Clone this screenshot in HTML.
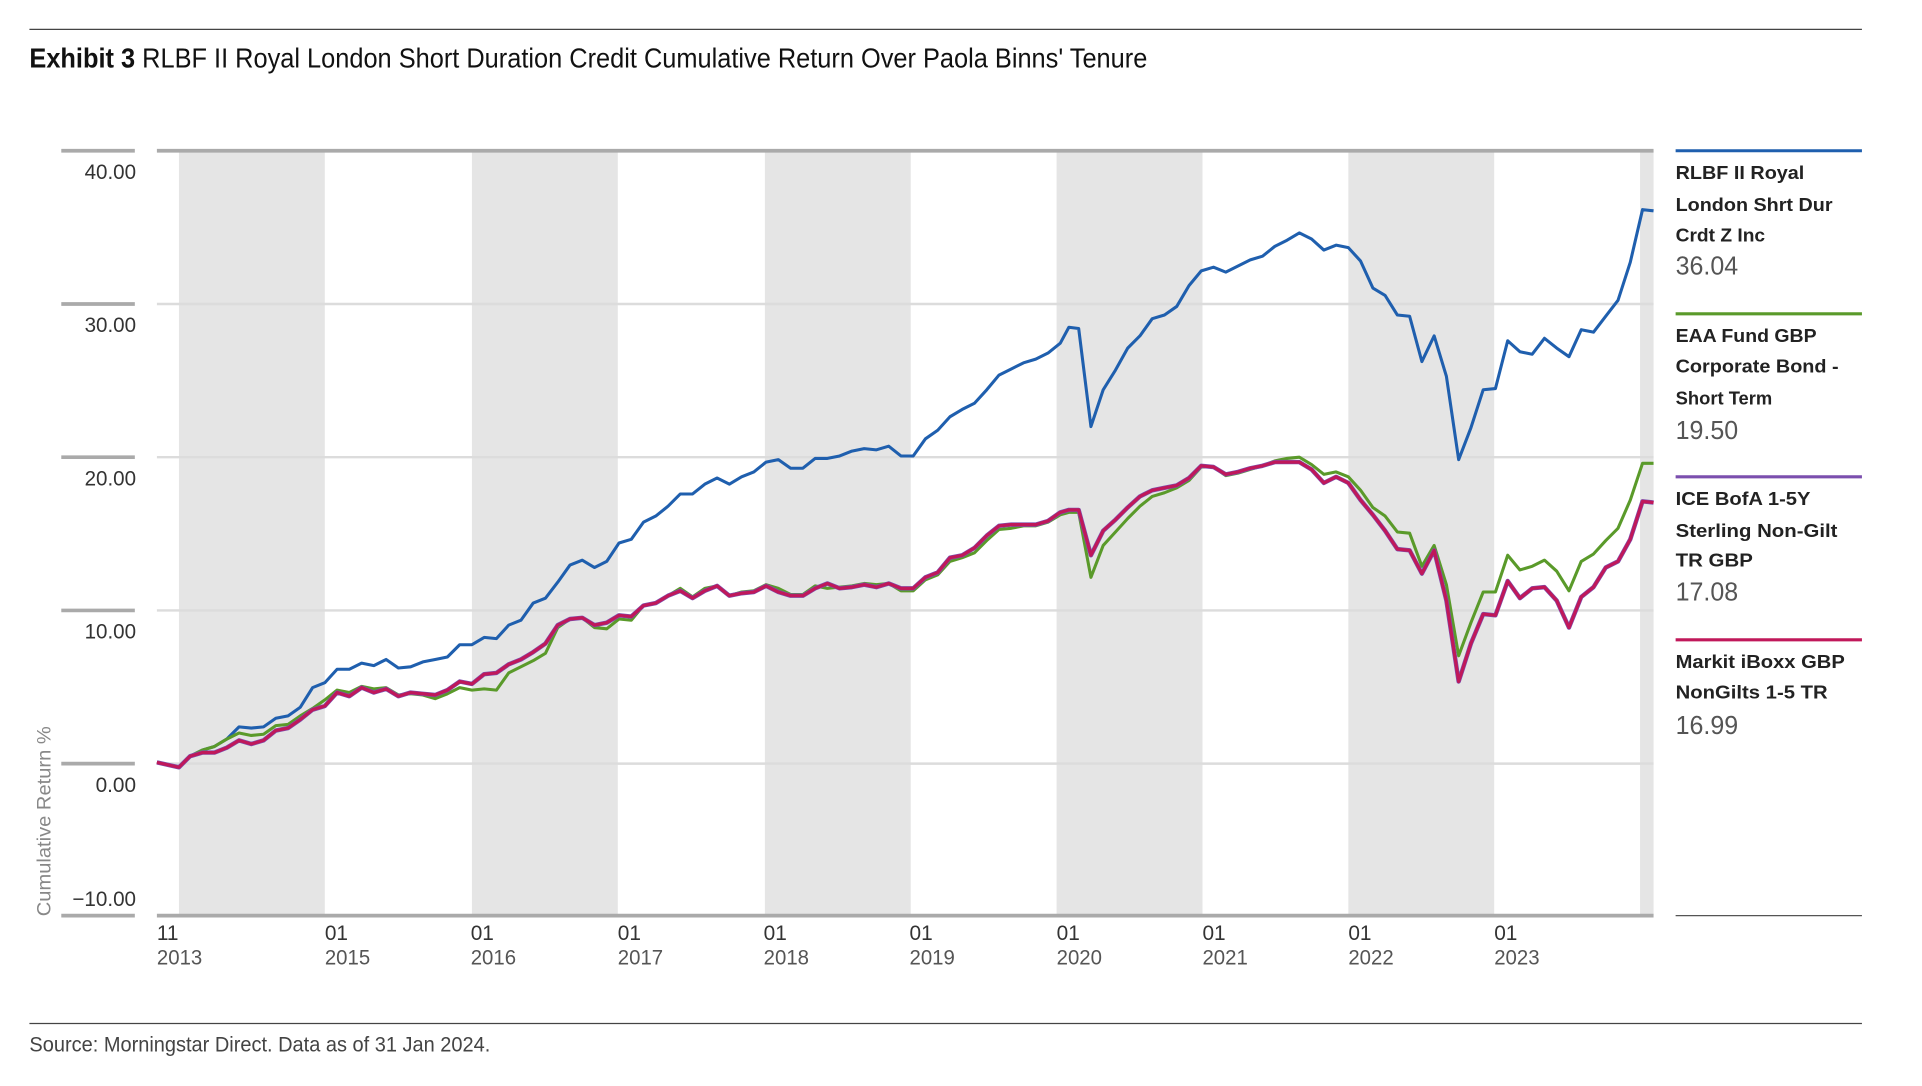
<!DOCTYPE html>
<html><head><meta charset="utf-8"><style>
html,body{margin:0;padding:0;background:#fff;}
svg{display:block;}
text{font-family:"Liberation Sans Narrow","Liberation Sans",sans-serif;}
.leg{font-family:"Liberation Sans",sans-serif;font-weight:bold;font-size:15px;fill:#222;}
.val{font-size:21px;fill:#555;}
.yl{font-size:17px;fill:#333;text-anchor:end;}
.xl{font-size:17px;fill:#555;}
</style></head><body>
<svg width="1922" height="1086" viewBox="0 0 1568 886" preserveAspectRatio="none" xmlns="http://www.w3.org/2000/svg">
<line x1="24" y1="24" x2="1519" y2="24" stroke="#444" stroke-width="1"/>
<text x="24" y="55" font-size="23" fill="#111" textLength="912" lengthAdjust="spacingAndGlyphs"><tspan font-weight="bold">Exhibit 3</tspan> RLBF II Royal London Short Duration Credit Cumulative Return Over Paola Binns' Tenure</text>
<g fill="#e5e5e5">
<rect x="146" y="123" width="119" height="624"/>
<rect x="385" y="123" width="119" height="624"/>
<rect x="624" y="123" width="119" height="624"/>
<rect x="862" y="123" width="119" height="624"/>
<rect x="1100" y="123" width="119" height="624"/>
<rect x="1338" y="123" width="11" height="624"/>
</g>
<g stroke="#dcdcdc" stroke-width="2">
<line x1="128" y1="248" x2="1349" y2="248"/>
<line x1="128" y1="373" x2="1349" y2="373"/>
<line x1="128" y1="498" x2="1349" y2="498"/>
<line x1="128" y1="623" x2="1349" y2="623"/>
</g>
<g stroke="#aaa" stroke-width="3">
<line x1="128" y1="123" x2="1349" y2="123"/>
<line x1="128" y1="747" x2="1349" y2="747"/>
<line x1="50" y1="123" x2="110" y2="123"/>
<line x1="50" y1="248" x2="110" y2="248"/>
<line x1="50" y1="373" x2="110" y2="373"/>
<line x1="50" y1="498" x2="110" y2="498"/>
<line x1="50" y1="623" x2="110" y2="623"/>
<line x1="50" y1="747" x2="110" y2="747"/>
</g>
<text class="yl" x="111" y="146" textLength="42" lengthAdjust="spacingAndGlyphs">40.00</text>
<text class="yl" x="111" y="271" textLength="42" lengthAdjust="spacingAndGlyphs">30.00</text>
<text class="yl" x="111" y="396" textLength="42" lengthAdjust="spacingAndGlyphs">20.00</text>
<text class="yl" x="111" y="521" textLength="42" lengthAdjust="spacingAndGlyphs">10.00</text>
<text class="yl" x="111" y="646" textLength="33" lengthAdjust="spacingAndGlyphs">0.00</text>
<text class="yl" x="111" y="739" textLength="52" lengthAdjust="spacingAndGlyphs">−10.00</text>
<text x="41" y="670" font-size="16" fill="#888" text-anchor="middle" transform="rotate(-90 41 670)" textLength="155" lengthAdjust="spacingAndGlyphs">Cumulative Return %</text>
<g class="xl">
<text x="128" y="767" fill="#333">11</text><text x="128" y="787" textLength="37" lengthAdjust="spacingAndGlyphs">2013</text>
<text x="265" y="767" fill="#333">01</text><text x="265" y="787" textLength="37" lengthAdjust="spacingAndGlyphs">2015</text>
<text x="384" y="767" fill="#333">01</text><text x="384" y="787" textLength="37" lengthAdjust="spacingAndGlyphs">2016</text>
<text x="504" y="767" fill="#333">01</text><text x="504" y="787" textLength="37" lengthAdjust="spacingAndGlyphs">2017</text>
<text x="623" y="767" fill="#333">01</text><text x="623" y="787" textLength="37" lengthAdjust="spacingAndGlyphs">2018</text>
<text x="742" y="767" fill="#333">01</text><text x="742" y="787" textLength="37" lengthAdjust="spacingAndGlyphs">2019</text>
<text x="862" y="767" fill="#333">01</text><text x="862" y="787" textLength="37" lengthAdjust="spacingAndGlyphs">2020</text>
<text x="981" y="767" fill="#333">01</text><text x="981" y="787" textLength="37" lengthAdjust="spacingAndGlyphs">2021</text>
<text x="1100" y="767" fill="#333">01</text><text x="1100" y="787" textLength="37" lengthAdjust="spacingAndGlyphs">2022</text>
<text x="1219" y="767" fill="#333">01</text><text x="1219" y="787" textLength="37" lengthAdjust="spacingAndGlyphs">2023</text>
</g>
<g fill="none" stroke-linejoin="round">
<polyline stroke="#1f5fae" stroke-width="2.5" points="128,622 146,626 155,617 165,612 175,609 185,603 195,593 205,594 215,593 225,586 235,584 245,577 255,561 265,557 275,546 285,546 295,541 305,543 315,538 325,545 335,544 345,540 355,538 365,536 375,526 385,526 395,520 405,521 415,510 425,506 435,492 445,488 455,475 465,461 475,457 485,463 495,458 505,443 515,440 525,426 535,421 545,413 555,403 565,403 575,395 585,390 595,395 605,389 615,385 625,377 635,375 645,382 655,382 665,374 675,374 685,372 695,368 705,366 715,367 725,364 735,372 745,372 755,358 765,351 775,340 785,334 795,329 805,318 815,306 825,301 835,296 845,293 855,288 865,280 872,267 880,268 890,348 900,318 910,302 920,284 930,274 940,260 950,257 960,250 970,233 980,221 990,218 1000,222 1010,217 1020,212 1030,209 1040,201 1050,196 1060,190 1070,195 1080,204 1090,200 1100,202 1110,213 1120,235 1130,241 1140,257 1150,258 1160,295 1170,274 1180,307 1190,375 1200,349 1210,318 1220,317 1230,278 1240,287 1250,289 1260,276 1270,284 1280,291 1290,269 1300,271 1310,258 1320,245 1330,214 1340,171 1349,172"/>
<polyline stroke="#5a9a2a" stroke-width="2.5" points="128,622 146,626 155,617 165,612 175,609 185,603 195,598 205,600 215,599 225,592 235,591 245,584 255,578 265,571 275,563 285,565 295,560 305,562 315,561 325,567 335,566 345,567 355,570 365,566 375,561 385,563 395,562 405,563 415,549 425,544 435,539 445,533 455,512 465,505 475,504 485,512 495,513 505,505 515,506 525,494 535,492 545,486 555,480 565,487 575,480 585,478 595,486 605,483 615,482 625,477 635,480 645,485 655,485 665,478 675,480 685,479 695,478 705,476 715,477 725,476 735,482 745,482 755,473 765,469 775,458 785,455 795,451 805,441 815,432 825,431 835,429 845,429 855,426 865,420 872,418 880,418 890,471 900,445 910,434 920,423 930,413 940,405 950,402 960,398 970,392 980,381 990,381 1000,388 1010,386 1020,383 1030,380 1040,376 1050,374 1060,373 1070,379 1080,387 1090,385 1100,389 1110,400 1120,414 1130,421 1140,434 1150,435 1160,462 1170,445 1180,477 1190,535 1200,508 1210,483 1220,483 1230,453 1240,465 1250,462 1260,457 1270,466 1280,482 1290,458 1300,452 1310,441 1320,431 1330,408 1340,378 1349,378"/>
<polyline stroke="#7b4fae" stroke-width="3.6" points="128,622 146,626 155,617 165,614 175,614 185,610 195,604 205,607 215,604 225,596 235,594 245,587 255,579 265,576 275,565 285,568 295,561 305,565 315,562 325,568 335,565 345,566 355,567 365,563 375,556 385,558 395,550 405,549 415,542 425,538 435,532 445,525 455,510 465,505 475,504 485,510 495,508 505,502 515,503 525,494 535,492 545,486 555,482 565,488 575,482 585,478 595,486 605,484 615,483 625,478 635,483 645,486 655,486 665,480 675,476 685,480 695,479 705,477 715,479 725,476 735,480 745,480 755,471 765,467 775,455 785,453 795,447 805,437 815,429 825,428 835,428 845,428 855,425 865,418 872,416 880,416 890,453 900,433 910,424 920,414 930,405 940,400 950,398 960,396 970,390 980,380 990,381 1000,387 1010,385 1020,382 1030,380 1040,377 1050,377 1060,377 1070,383 1080,394 1090,389 1100,394 1110,408 1120,420 1130,433 1140,448 1150,449 1160,468 1170,449 1180,490 1190,556 1200,525 1210,501 1220,502 1230,474 1240,488 1250,480 1260,479 1270,490 1280,512 1290,487 1300,479 1310,463 1320,458 1330,440 1340,409 1349,410"/>
<polyline stroke="#c0185a" stroke-width="2.6" points="128,622 146,626 155,617 165,614 175,614 185,610 195,604 205,607 215,604 225,596 235,594 245,587 255,579 265,576 275,565 285,568 295,561 305,565 315,562 325,568 335,565 345,566 355,567 365,563 375,556 385,558 395,550 405,549 415,542 425,538 435,532 445,525 455,510 465,505 475,504 485,510 495,508 505,502 515,503 525,494 535,492 545,486 555,482 565,488 575,482 585,478 595,486 605,484 615,483 625,478 635,483 645,486 655,486 665,480 675,476 685,480 695,479 705,477 715,479 725,476 735,480 745,480 755,471 765,467 775,455 785,453 795,447 805,437 815,429 825,428 835,428 845,428 855,425 865,418 872,416 880,416 890,453 900,433 910,424 920,414 930,405 940,400 950,398 960,396 970,390 980,380 990,381 1000,387 1010,385 1020,382 1030,380 1040,377 1050,377 1060,377 1070,383 1080,394 1090,389 1100,394 1110,408 1120,420 1130,433 1140,448 1150,449 1160,468 1170,449 1180,490 1190,556 1200,525 1210,501 1220,502 1230,474 1240,488 1250,480 1260,479 1270,490 1280,512 1290,487 1300,479 1310,463 1320,458 1330,440 1340,409 1349,410"/>
</g>
<line x1="1367" y1="123" x2="1519" y2="123" stroke="#1f5fae" stroke-width="2.5"/>
<text class="leg" x="1367" y="146" textLength="105" lengthAdjust="spacingAndGlyphs">RLBF II Royal</text>
<text class="leg" x="1367" y="172" textLength="128" lengthAdjust="spacingAndGlyphs">London Shrt Dur</text>
<text class="leg" x="1367" y="197" textLength="73" lengthAdjust="spacingAndGlyphs">Crdt Z Inc</text>
<text class="val" x="1367" y="224" textLength="51" lengthAdjust="spacingAndGlyphs">36.04</text>
<line x1="1367" y1="256" x2="1519" y2="256" stroke="#5a9a2a" stroke-width="2.5"/>
<text class="leg" x="1367" y="279" textLength="115" lengthAdjust="spacingAndGlyphs">EAA Fund GBP</text>
<text class="leg" x="1367" y="304" textLength="133" lengthAdjust="spacingAndGlyphs">Corporate Bond -</text>
<text class="leg" x="1367" y="330">Short Term</text>
<text class="val" x="1367" y="358" textLength="51" lengthAdjust="spacingAndGlyphs">19.50</text>
<line x1="1367" y1="389" x2="1519" y2="389" stroke="#7b4fae" stroke-width="2.5"/>
<text class="leg" x="1367" y="412" textLength="110" lengthAdjust="spacingAndGlyphs">ICE BofA 1-5Y</text>
<text class="leg" x="1367" y="438" textLength="132" lengthAdjust="spacingAndGlyphs">Sterling Non-Gilt</text>
<text class="leg" x="1367" y="462" textLength="63" lengthAdjust="spacingAndGlyphs">TR GBP</text>
<text class="val" x="1367" y="490" textLength="51" lengthAdjust="spacingAndGlyphs">17.08</text>
<line x1="1367" y1="522" x2="1519" y2="522" stroke="#c0185a" stroke-width="2.5"/>
<text class="leg" x="1367" y="545" textLength="138" lengthAdjust="spacingAndGlyphs">Markit iBoxx GBP</text>
<text class="leg" x="1367" y="570" textLength="124" lengthAdjust="spacingAndGlyphs">NonGilts 1-5 TR</text>
<text class="val" x="1367" y="599" textLength="51" lengthAdjust="spacingAndGlyphs">16.99</text>
<line x1="1367" y1="747" x2="1519" y2="747" stroke="#555" stroke-width="1"/>
<line x1="24" y1="835" x2="1519" y2="835" stroke="#444" stroke-width="1"/>
<text x="24" y="858" font-size="17" fill="#444" textLength="376" lengthAdjust="spacingAndGlyphs">Source: Morningstar Direct. Data as of 31 Jan 2024.</text>
</svg>
</body></html>
